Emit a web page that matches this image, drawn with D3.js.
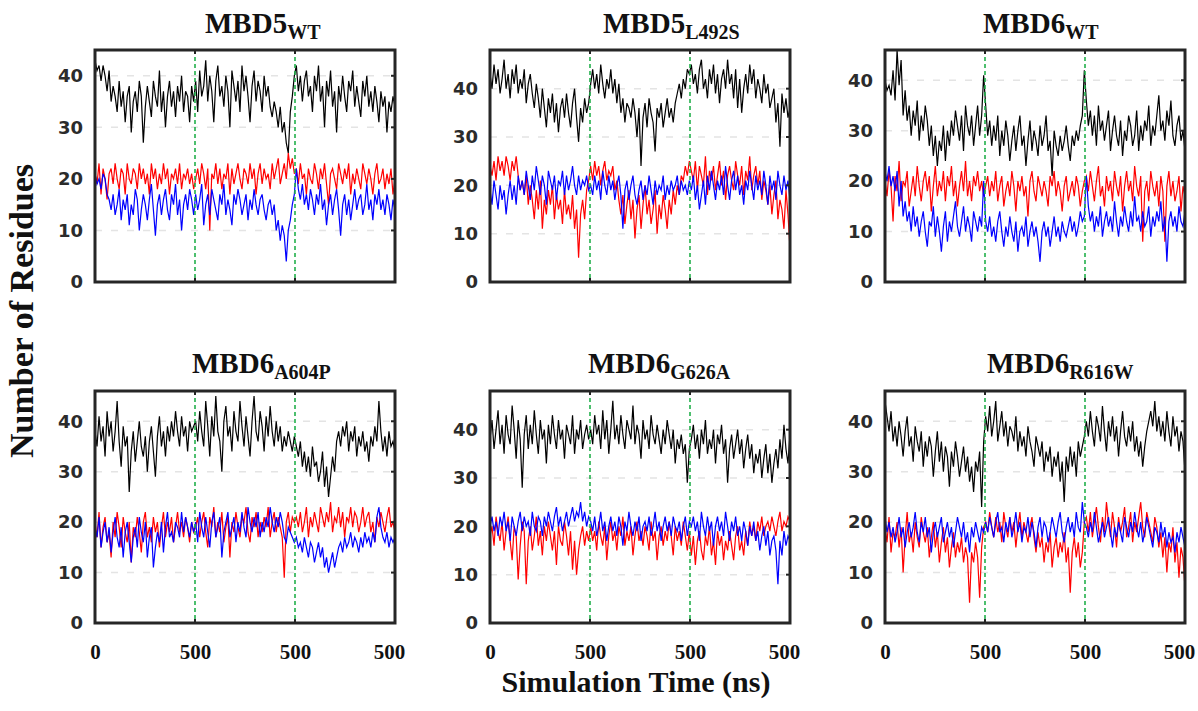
<!DOCTYPE html>
<html>
<head>
<meta charset="utf-8">
<script src="https://cdn.jsdelivr.net/npm/d3@7/dist/d3.min.js"></script>
<style>
body { margin: 0; background: #fff; }
svg { display: block; }
</style>
</head>
<body>
<svg id="chart" width="1198" height="711"></svg>
<script>
// panel titles (name + subscript) and y-axis ranges
var panelNames = ['MBD5', 'MBD5', 'MBD6', 'MBD6', 'MBD6', 'MBD6'];
var panelSubs = ['WT', 'L492S', 'WT', 'A604P', 'G626A', 'R616W'];
var yMax = [45, 48, 46, 46, 48, 46];
var yTicks = [0, 10, 20, 30, 40];
var xTicks = [0, 500, 1000, 1500];
var xTickLabels = ['0', '500', '500', '500'];
var dividers = [500, 1000];

// number of residues, three 500 ns runs concatenated (black / red / blue)
var p1Black = [43,41,42,39,42,40,37,41,35,38,36,33,39,34,37,31,36,38,29,35,37,33,39,36,27,34,38,35,32,39,36,34,41,33,37,30,36,39,34,37,32,38,35,40,33,37,36,31,38,35,
  39,33,41,36,38,43,35,40,37,31,39,42,36,38,34,40,37,30,41,38,35,39,33,42,37,40,36,31,38,41,35,39,37,33,40,36,38,34,32,35,33,30,34,29,31,27,25,33,36,40,
  42,37,40,35,39,41,36,38,33,40,37,42,35,38,30,39,36,41,34,37,29,38,35,40,36,33,39,37,41,34,38,35,32,39,36,40,34,37,33,38,35,31,37,34,36,29,35,33,36,34];
var p1Red = [21,19,23,17,22,20,16,21,22,19,23,20,18,22,21,17,23,20,19,22,21,18,23,20,22,19,21,17,23,20,22,18,21,19,23,20,22,17,21,20,22,19,23,18,21,20,22,19,21,18,
  20,22,19,23,21,18,22,10,21,20,23,19,22,18,21,20,23,17,22,19,21,23,20,18,22,21,19,23,20,22,17,21,23,19,22,20,21,18,23,20,22,24,19,21,23,20,25,22,24,21,
  22,19,23,20,21,17,22,20,19,23,21,18,22,20,23,19,15,21,22,20,18,23,21,19,22,20,23,17,21,19,22,20,18,23,21,19,22,20,17,21,23,19,20,22,18,21,19,22,17,20];
var p1Blue = [21,19,20,18,21,20,17,16,14,17,13,15,18,12,16,14,17,11,15,13,18,16,10,14,17,15,12,16,19,14,9,15,17,13,16,18,14,12,17,15,19,13,16,10,15,17,14,18,16,13,
  17,14,16,19,11,15,17,13,18,16,14,12,17,15,19,13,16,14,11,17,15,18,16,13,15,17,12,16,14,18,15,13,16,17,14,12,15,16,13,15,10,12,8,11,9,4,10,12,15,17,
  22,18,16,19,15,17,14,18,16,13,17,15,19,14,16,11,15,17,13,16,18,14,9,15,17,13,16,12,15,18,14,16,17,13,15,19,14,16,12,17,15,18,14,16,13,17,15,12,16,14];

var p2Black = [43,40,45,41,44,39,42,46,40,43,38,44,41,45,39,42,40,44,37,41,43,39,36,41,38,34,40,36,32,38,35,39,33,37,31,36,38,34,39,35,32,37,40,34,29,36,33,38,35,37,
  41,44,40,43,39,45,41,38,42,40,44,39,42,37,41,35,38,33,37,36,34,38,35,30,36,24,34,37,32,38,35,33,27,36,34,37,32,35,38,34,36,33,37,39,41,38,42,40,44,43,
  45,41,43,39,44,46,40,42,38,44,41,45,39,43,37,42,44,40,46,41,43,38,44,36,42,35,40,43,39,45,41,44,38,42,40,37,43,39,41,36,38,40,33,37,28,39,35,38,34,36];
var p2Red = [24,22,25,21,26,23,25,22,26,24,21,25,23,26,22,19,21,18,22,16,20,17,13,19,15,21,11,17,14,19,16,20,13,18,15,17,12,19,14,16,13,18,11,15,5,14,17,13,19,21,
  24,21,25,22,24,20,23,25,21,23,22,24,19,21,17,14,18,12,16,19,13,17,9,15,18,11,16,20,14,17,12,15,19,10,16,13,18,15,11,17,14,19,16,20,18,22,21,24,22,25,
  23,21,25,19,24,22,20,26,18,23,21,24,19,22,25,20,23,17,22,24,21,19,25,22,20,24,18,23,21,26,19,22,24,20,23,17,21,19,16,20,14,18,21,13,17,15,11,19,14,7];
var p2Blue = [19,16,21,18,15,20,17,19,14,18,21,17,20,16,22,19,21,18,23,20,17,22,19,24,21,18,22,20,16,23,21,19,22,17,21,20,23,18,22,19,21,24,20,18,22,19,21,20,22,19,
  20,18,22,19,21,17,23,20,18,22,19,21,17,20,22,18,11,19,21,17,20,22,18,16,19,21,17,20,18,22,19,16,21,18,20,19,22,17,20,18,21,19,20,22,18,21,19,20,18,21,
  19,22,17,20,15,18,21,16,22,19,23,20,17,21,19,22,18,24,20,17,21,23,19,22,18,20,16,21,19,23,20,17,22,19,21,18,23,20,16,22,19,21,17,23,20,18,22,19,21,17];

var p3Black = [40,38,39,37,42,36,46,39,44,33,38,32,35,29,34,31,36,28,33,30,35,32,27,31,25,29,23,28,26,31,24,30,27,32,29,34,31,28,33,26,35,31,29,33,27,31,35,29,33,41,
  35,29,32,27,31,28,33,25,30,27,32,29,24,28,31,26,30,33,27,29,23,28,32,26,30,28,25,31,27,29,33,26,28,21,30,27,25,29,26,28,31,27,24,29,27,30,28,31,33,42,
  36,31,34,29,33,27,35,30,32,28,31,34,26,30,33,29,27,32,25,30,28,33,31,27,29,34,26,31,28,32,30,35,27,31,29,33,37,30,32,28,34,31,36,29,27,31,33,28,30,26];
var p3Red = [20,17,22,19,12,21,18,24,16,20,19,22,15,18,21,17,23,19,16,20,22,18,21,14,19,23,17,20,18,22,16,21,19,23,17,20,15,19,22,18,24,17,20,16,21,19,22,18,20,17,
  19,21,17,20,18,22,16,19,21,15,18,20,17,22,19,14,20,18,21,17,19,13,20,22,18,16,21,19,17,20,18,15,21,19,22,17,20,18,14,19,21,16,18,20,17,21,19,15,18,20,
  21,18,22,19,16,20,23,17,19,15,21,18,20,16,22,19,17,21,14,19,22,18,20,16,23,19,17,21,8,18,20,16,22,19,17,20,15,21,18,8,19,22,17,20,16,18,21,14,19,17];
var p3Blue = [22,20,23,19,21,18,22,15,20,13,16,12,14,10,15,11,13,9,12,14,10,7,12,11,15,9,13,10,6,11,14,8,12,10,13,16,11,9,12,15,10,13,11,8,14,12,10,13,11,20,
  12,10,13,9,11,8,12,14,10,7,11,9,13,10,8,12,6,10,11,9,13,7,10,12,9,11,8,4,10,12,9,11,7,10,13,9,11,8,12,10,9,11,13,10,12,9,11,14,12,13,
  21,15,12,14,10,13,11,15,9,12,14,11,13,10,16,12,9,13,11,15,12,10,14,11,17,12,13,10,14,11,12,15,9,13,11,14,12,16,10,13,4,12,14,11,13,10,15,12,11,14];

var p4Black = [38,35,41,36,39,33,42,37,40,34,38,44,36,31,39,35,37,26,34,38,32,36,40,35,33,37,30,36,39,34,29,37,41,35,38,33,39,36,40,37,42,38,35,41,37,39,34,40,38,39,
  40,36,42,38,35,44,39,33,41,37,45,38,36,30,40,43,37,39,34,42,38,36,44,39,35,41,37,33,40,45,38,36,42,39,34,41,37,43,38,35,40,36,39,34,37,35,38,36,34,37,
  35,33,36,31,34,30,33,29,35,31,32,28,30,34,27,31,25,29,33,30,36,38,35,39,37,40,34,38,36,39,33,37,35,38,34,36,32,37,35,39,36,44,38,34,37,33,38,35,36,34];
var p4Red = [20,17,22,15,19,21,16,18,13,20,17,22,19,15,21,18,16,20,12,19,17,21,18,14,20,22,17,19,16,21,18,20,15,19,22,17,20,18,21,16,19,22,18,20,17,21,19,16,20,18,
  19,21,17,20,22,18,15,21,19,23,17,20,18,22,16,19,21,13,20,18,22,19,17,21,20,23,18,16,21,19,22,17,20,18,21,19,23,17,20,22,18,21,19,17,9,20,22,18,21,20,
  21,19,22,18,20,23,17,21,19,22,20,18,23,21,19,22,20,24,18,21,20,23,19,22,17,21,20,23,19,22,21,18,20,23,19,21,22,18,20,16,21,19,22,20,18,21,23,19,20,18];
var p4Blue = [19,17,21,15,18,20,16,19,14,18,21,17,15,19,13,18,20,16,12,17,19,15,21,18,16,20,13,17,19,11,15,18,16,20,14,19,22,17,18,16,20,19,17,22,18,21,19,17,20,18,
  20,16,22,19,17,21,18,15,20,22,17,19,21,13,18,20,22,17,19,21,16,20,18,22,19,17,23,20,18,21,19,22,17,20,18,21,19,23,20,18,21,19,22,20,17,16,19,18,17,16,
  17,15,16,14,17,15,13,16,15,12,14,16,13,15,11,13,10,12,14,11,13,15,16,14,17,15,16,18,15,17,16,14,17,15,18,16,17,15,18,16,21,23,19,17,16,18,15,17,16,17];

var p5Black = [38,42,36,40,44,37,41,35,43,39,37,45,40,34,42,38,28,39,43,36,41,37,44,39,35,42,38,40,33,41,37,43,39,36,42,38,40,34,41,39,37,43,35,40,38,42,36,39,41,38,
  40,37,43,39,41,36,44,38,42,35,40,46,38,41,37,43,39,36,42,40,38,45,37,41,39,34,42,38,40,36,43,39,37,41,38,35,40,37,42,39,36,40,33,38,36,39,35,37,29,36,
  38,41,36,39,34,40,37,42,35,38,36,40,33,39,37,41,35,38,29,36,39,34,37,40,35,38,32,36,39,34,37,31,35,33,36,30,34,37,31,35,29,33,36,32,38,34,41,36,33,39];
var p5Red = [18,20,16,22,19,17,21,15,19,22,17,13,20,18,9,16,21,19,8,17,20,15,18,22,16,19,14,20,17,21,18,15,19,12,20,17,16,21,18,14,19,11,17,10,15,18,20,16,19,17,
  20,17,19,15,21,18,16,20,13,18,21,17,19,15,20,18,22,16,19,17,20,14,18,21,17,19,16,20,18,15,21,17,19,13,18,20,16,19,17,21,18,14,20,17,19,16,21,18,15,19,
  14,18,12,17,19,15,13,18,16,20,14,17,12,19,16,18,13,17,15,19,16,13,18,20,15,17,14,19,16,21,18,20,17,21,19,22,18,20,21,19,22,20,18,21,23,19,21,20,22,21];
var p5Blue = [20,22,19,21,18,22,20,23,19,21,17,22,20,18,21,23,19,22,20,21,18,23,20,19,22,21,18,22,20,23,21,19,22,24,20,22,19,21,23,20,22,24,21,23,22,25,21,23,20,22,
  21,19,22,18,20,23,19,21,17,20,22,19,21,18,22,20,16,21,19,23,20,18,21,19,22,17,20,21,19,22,18,20,23,19,21,17,20,22,19,21,18,22,20,19,21,17,20,22,18,21,
  20,22,19,21,17,23,20,18,22,19,21,16,20,22,19,21,18,23,20,17,21,19,22,18,20,17,21,19,16,20,18,21,17,19,15,18,20,16,19,14,17,18,15,8,17,14,19,16,18,17];

var p6Black = [44,41,38,42,36,39,35,40,37,33,38,41,35,37,32,39,36,34,38,31,36,33,37,35,29,34,38,32,36,30,35,33,27,34,31,36,33,29,32,35,30,33,28,31,26,32,30,34,23,36,
  41,38,43,37,40,44,36,39,42,37,40,35,39,38,36,41,34,38,35,37,33,39,36,34,31,37,35,33,36,30,34,32,35,29,33,31,34,28,32,24,33,30,35,31,34,29,36,33,35,37,
  40,37,42,38,35,41,39,36,43,38,34,40,37,41,36,39,33,38,42,37,35,39,36,40,34,37,33,36,31,35,38,40,42,39,44,38,41,37,40,36,42,38,35,41,37,39,34,38,36,30];
var p6Red = [19,16,21,14,18,17,20,15,19,10,17,22,16,18,14,20,17,15,21,18,16,19,13,17,20,15,18,12,16,19,14,17,11,15,18,13,16,14,17,12,15,13,4,14,12,16,13,5,15,19,
  20,18,22,19,17,21,18,20,16,22,19,17,21,18,20,15,19,22,17,20,18,16,19,21,17,14,18,15,17,12,16,14,18,11,15,17,13,16,14,18,12,15,6,14,17,13,16,11,14,20,
  21,18,22,17,20,23,19,16,21,18,24,20,17,22,19,15,21,18,20,23,17,19,22,16,20,18,21,24,19,17,22,20,18,16,21,19,15,18,13,17,10,16,14,19,12,16,9,15,13,7];
var p6Blue = [21,18,20,17,19,16,18,21,17,19,15,18,20,17,19,22,18,16,20,18,21,17,19,14,18,20,17,19,21,16,18,20,17,19,15,18,21,19,17,20,16,18,14,19,17,20,18,16,19,18,
  20,18,21,19,17,20,22,18,19,16,20,18,21,17,19,22,18,20,16,19,18,21,17,20,18,15,19,21,17,20,19,16,18,21,19,17,20,22,18,16,19,21,18,20,17,22,19,18,24,20,
  19,17,20,18,22,19,16,18,20,17,19,21,18,15,19,17,20,18,16,21,19,17,20,18,22,19,17,20,16,18,21,19,17,15,19,18,16,20,17,19,15,18,16,17,14,18,16,19,17,15];

var panelSeries = [
  [p1Black, p1Red, p1Blue],
  [p2Black, p2Red, p2Blue],
  [p3Black, p3Red, p3Blue],
  [p4Black, p4Red, p4Blue],
  [p5Black, p5Red, p5Blue],
  [p6Black, p6Red, p6Blue]
];

// layout
var panelLeft = [95, 490, 885];
var panelTop = [50, 391];
var pw = 300, ph = 232;
var titleX = [205, 603, 983, 192, 588, 987];
var titleY = [33, 373];
var lineColors = ['#000000', '#ff0000', '#0000ff'];
var serif = "'Liberation Serif', 'Times New Roman', serif";
var sans = "'DejaVu Sans', sans-serif";

var svg = d3.select('#chart');

panelSeries.forEach(function (series, i) {
  var col = i % 3, row = Math.floor(i / 3);
  var g = svg.append('g')
    .attr('transform', 'translate(' + panelLeft[col] + ',' + panelTop[row] + ')');
  var x = d3.scaleLinear().domain([0, 1500]).range([0, pw]);
  var y = d3.scaleLinear().domain([0, yMax[i]]).range([ph, 0]);

  g.append('clipPath').attr('id', 'clip-' + i)
    .append('rect').attr('width', pw).attr('height', ph);

  // light dashed grid
  g.selectAll('.grid').data(yTicks.slice(1)).enter().append('line')
    .attr('x1', 0).attr('x2', pw)
    .attr('y1', function (d) { return y(d); })
    .attr('y2', function (d) { return y(d); })
    .style('stroke', '#e4e4e4')
    .style('stroke-width', 1.5)
    .style('stroke-dasharray', '7,9');

  // traces
  var plot = g.append('g').attr('clip-path', 'url(#clip-' + i + ')');
  series.forEach(function (values, s) {
    var n = values.length;
    var line = d3.line()
      .x(function (d, k) { return x(k * 1500 / (n - 1)); })
      .y(function (d) { return y(d); });
    plot.append('path')
      .datum(values)
      .attr('d', line)
      .style('fill', 'none')
      .style('stroke', lineColors[s])
      .style('stroke-width', 1.2);
  });

  // run boundaries
  g.selectAll('.divider').data(dividers).enter().append('line')
    .attr('x1', function (d) { return x(d); })
    .attr('x2', function (d) { return x(d); })
    .attr('y1', 0).attr('y2', ph)
    .style('stroke', '#22b04b')
    .style('stroke-width', 1.6)
    .style('stroke-dasharray', '4,3');

  // small inner tick marks
  dividers.forEach(function (d) {
    g.append('line').attr('x1', x(d)).attr('x2', x(d)).attr('y1', 0).attr('y2', 4)
      .style('stroke', '#222').style('stroke-width', 2);
    g.append('line').attr('x1', x(d)).attr('x2', x(d)).attr('y1', ph).attr('y2', ph - 4)
      .style('stroke', '#222').style('stroke-width', 2);
  });
  yTicks.slice(1).forEach(function (d) {
    g.append('line').attr('x1', pw).attr('x2', pw - 4).attr('y1', y(d)).attr('y2', y(d))
      .style('stroke', '#222').style('stroke-width', 2);
  });

  // frame
  g.append('rect')
    .attr('width', pw).attr('height', ph)
    .style('fill', 'none')
    .style('stroke', '#262626')
    .style('stroke-width', 3);

  // y axis labels
  var yAxis = g.append('g')
    .call(d3.axisLeft(y).tickValues(yTicks).tickSize(0).tickPadding(12));
  yAxis.select('.domain').remove();
  yAxis.selectAll('text')
    .style('font-family', sans)
    .style('font-weight', 'bold')
    .style('font-size', '18px')
    .style('fill', '#2b2b2b');

  // x axis labels on the bottom row
  if (row === 1) {
    var xAxis = g.append('g')
      .attr('transform', 'translate(0,' + ph + ')')
      .call(d3.axisBottom(x).tickValues(xTicks)
        .tickFormat(function (d, k) { return xTickLabels[k]; })
        .tickSize(0));
    xAxis.select('.domain').remove();
    xAxis.selectAll('text')
      .attr('y', 36).attr('dy', null)
      .attr('dx', function (d, k) { return k === xTicks.length - 1 ? -6 : 0; })
      .style('font-family', serif)
      .style('font-weight', 'bold')
      .style('font-size', '21px')
      .style('fill', '#111');
  }

  // title with subscript
  var title = svg.append('text')
    .attr('x', titleX[i])
    .attr('y', titleY[row])
    .style('font-family', serif)
    .style('font-weight', 'bold')
    .style('font-size', '29px')
    .style('fill', '#111');
  title.append('tspan').text(panelNames[i]);
  title.append('tspan')
    .attr('dy', 6)
    .style('font-size', '20px')
    .text(panelSubs[i]);
});

// shared axis titles
svg.append('text')
  .attr('transform', 'translate(33,311) rotate(-90)')
  .attr('text-anchor', 'middle')
  .style('font-family', serif)
  .style('font-weight', 'bold')
  .style('font-size', '34px')
  .style('fill', '#111')
  .text('Number of Residues');

svg.append('text')
  .attr('x', 636)
  .attr('y', 692)
  .attr('text-anchor', 'middle')
  .style('font-family', serif)
  .style('font-weight', 'bold')
  .style('font-size', '30px')
  .style('fill', '#111')
  .text('Simulation Time (ns)');
</script>
</body>
</html>
